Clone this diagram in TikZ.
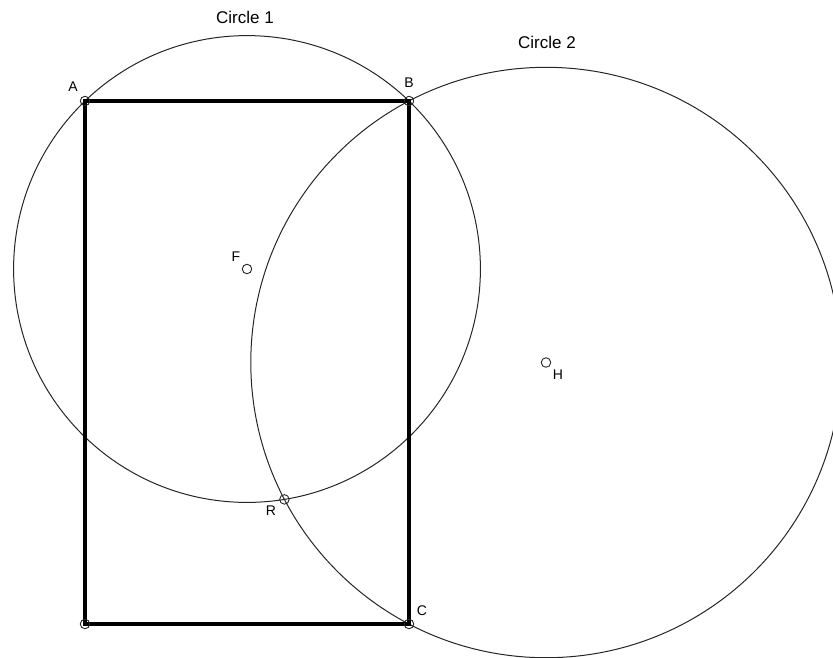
\documentclass[tikz,border=0pt]{standalone}
\usepackage{fontspec}
\setmainfont{Liberation Sans}
\begin{document}
\begin{tikzpicture}[x=1pt,y=-1pt,
  circ/.style={draw=black!85,line width=1pt},
  rect/.style={draw=black,line width=4.2pt,line join=miter},
  ptmark/.style={draw=black!85,circle,line width=0.9pt,inner sep=0pt,minimum size=9.5pt},
  plabel/.style={font=\fontsize{14}{14}\selectfont,inner sep=0pt},
  clabel/.style={font=\fontsize{17}{17}\selectfont,inner sep=0pt}]
\useasboundingbox (0,0) rectangle (833,657);
\clip (0,0) rectangle (833,657);
\coordinate (A) at (85,101);
\coordinate (B) at (409,101);
\coordinate (C) at (409,624);
\coordinate (D) at (85,624);
\coordinate (F) at (247,269);
\coordinate (H) at (546,362.5);
\coordinate (R) at (284.4,499.4);
\draw[circ] (F) circle[radius=233.4pt];
\draw[circ] (H) circle[radius=295.2pt];
\draw[rect] (A) -- (B) -- (C) -- (D) -- cycle;
\foreach \p in {A,B,C,D,F,H,R} \node[ptmark] (m\p) at (\p) {};
\node[plabel] (lA) at (73,87) {A};
\node[plabel] (lB) at (409,83) {B};
\node[plabel] (lC) at (422,611) {C};
\node[plabel] (lR) at (271,511) {R};
\node[plabel] (lF) at (236,257) {F};
\node[plabel] (lH) at (558,375) {H};
\node[clabel] (c1) at (245,17) {Circle 1};
\node[clabel] (c2) at (547,42) {Circle 2};
\end{tikzpicture}
\end{document}
